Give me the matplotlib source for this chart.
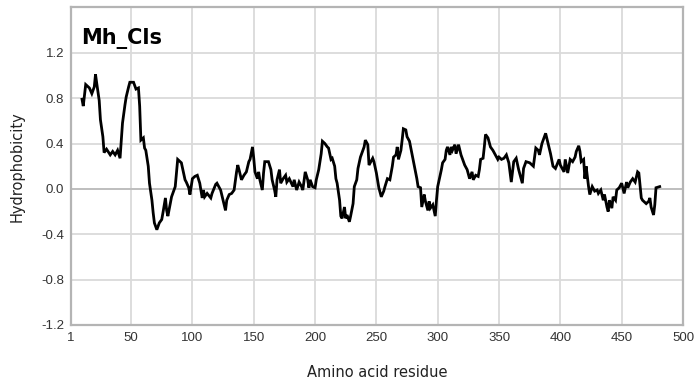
import matplotlib
matplotlib.use("Agg")
import matplotlib.pyplot as plt

# hydrophobicity profile (residue, value)
residue = [
    10, 11, 13, 16, 18, 20, 21, 22, 24, 25, 27, 28, 30, 33, 35, 37, 39, 41,
    42, 43, 45, 46, 48, 49, 52, 53, 54, 56, 57, 58, 60, 61, 62, 64, 65, 67,
    68, 69, 71, 73, 75, 76, 78, 79, 80, 82, 83, 86, 87, 88,
    91, 94, 95, 97, 98, 100, 102, 104, 106, 108, 109, 110, 112, 115, 116,
    119, 120, 123, 125, 127, 128, 130, 132, 134, 136, 137, 138, 140, 142,
    144, 146, 147, 149, 150, 151, 153, 154, 155, 157, 158, 159, 162, 164, 165,
    167, 168, 169, 171, 172, 174, 176, 177, 179, 182, 183, 185, 187, 189,
    190, 192, 194, 195, 196, 198, 200, 201, 203, 205, 206, 208, 210, 211,
    213, 214, 216, 217, 218, 220, 221, 222, 224, 225, 226, 228, 229, 231,
    232, 234, 235, 237, 238, 240, 241, 243, 244,
    246, 247, 248, 250, 252, 254, 256, 257, 259, 261, 263, 264, 266, 267,
    268, 270, 271, 272, 274, 275, 277, 279, 281, 283, 284, 286, 287, 289,
    290, 292, 293, 294, 296, 298, 299, 300, 302, 303, 304, 306, 307, 308,
    310, 311, 312, 314, 315, 317, 319, 320, 322, 324,
    326, 328, 329, 331, 333, 334, 335, 337, 338, 339, 341, 343, 345, 347,
    349, 350, 352, 354, 356, 358, 360, 362, 364, 366, 369, 370, 372, 375,
    378, 380, 382, 383, 385, 388, 390, 392, 394, 396, 399, 400, 403,
    404, 406, 408, 410, 412, 413, 415, 416, 417, 419, 420, 421, 423, 424,
    426, 428, 430, 431, 433, 435, 436, 438, 439, 440, 442, 443, 445, 446,
    448, 450, 452, 454, 455, 457, 459, 461, 463, 464, 466, 467, 470, 472,
    473, 474, 476, 477, 478, 481,
]
hydrophobicity = [
    0.79, 0.73, 0.92, 0.89, 0.84, 0.90, 1.01, 0.93, 0.78, 0.61, 0.46, 0.32,
    0.35, 0.30, 0.33, 0.30, 0.34, 0.27, 0.43, 0.58, 0.74, 0.81, 0.90, 0.94,
    0.94, 0.91, 0.88, 0.89, 0.73, 0.43, 0.45, 0.36, 0.34, 0.20, 0.05, -0.10,
    -0.21, -0.30, -0.36, -0.30, -0.27, -0.21, -0.08, -0.19, -0.24, -0.13,
    -0.07, 0.02, 0.14, 0.26,
    0.23, 0.08, 0.06, 0.01, -0.05, 0.09, 0.11, 0.12, 0.05, -0.08, -0.01,
    -0.07, -0.04, -0.08, -0.04, 0.04, 0.05, -0.01, -0.10, -0.19, -0.10,
    -0.05, -0.04, -0.01, 0.15, 0.21, 0.17, 0.08, 0.12, 0.15, 0.24, 0.26,
    0.37, 0.27, 0.15, 0.09, 0.15, 0.08, -0.01, 0.14, 0.24, 0.24, 0.17, 0.08,
    -0.01, -0.07, 0.08, 0.17, 0.05, 0.09, 0.12, 0.06, 0.09, 0.02, 0.08,
    -0.01, 0.06, 0.02, -0.01, 0.15, 0.08, 0.01, 0.08, 0.02, 0.01, 0.08,
    0.17, 0.31, 0.42, 0.40, 0.37, 0.36, 0.26, 0.27, 0.20, 0.09, 0.05, -0.10,
    -0.24, -0.26, -0.16, -0.26, -0.23, -0.29, -0.24, -0.13, 0.02, 0.08,
    0.18, 0.28, 0.31, 0.37, 0.43, 0.39, 0.21,
    0.25, 0.27, 0.24, 0.14, 0.01, -0.07, -0.02, 0.02, 0.09, 0.08, 0.20,
    0.28, 0.30, 0.37, 0.26, 0.34, 0.43, 0.53, 0.52, 0.46, 0.42, 0.31, 0.20,
    0.09, 0.02, 0.01, -0.16, -0.05, -0.11, -0.19, -0.11, -0.17, -0.14,
    -0.24, -0.10, 0.02, 0.12, 0.17, 0.23, 0.26, 0.34, 0.37, 0.30, 0.37,
    0.34, 0.39, 0.31, 0.39, 0.30, 0.27, 0.21, 0.17,
    0.09, 0.15, 0.08, 0.12, 0.11, 0.17, 0.26, 0.27, 0.37, 0.48, 0.45, 0.37,
    0.34, 0.30, 0.26, 0.28, 0.26, 0.27, 0.30, 0.23, 0.06, 0.24, 0.27, 0.17,
    0.05, 0.18, 0.24, 0.23, 0.20, 0.36, 0.34, 0.30, 0.40, 0.49, 0.40, 0.31,
    0.20, 0.18, 0.26, 0.21, 0.15,
    0.26, 0.14, 0.26, 0.24, 0.28, 0.33, 0.38, 0.33, 0.24, 0.26, 0.09, 0.20,
    0.02, -0.05, 0.02, -0.02, -0.01, -0.04, -0.01, -0.10, -0.05, -0.16,
    -0.20, -0.10, -0.17, -0.07, -0.10, -0.01, 0.01, 0.05, -0.04, 0.06, 0.01,
    0.06, 0.09, 0.06, 0.15, 0.14, -0.08, -0.10, -0.13, -0.11, -0.08, -0.16,
    -0.23, -0.14, 0.01, 0.02,
]

x_ticks = [1, 50, 100, 150, 200, 250, 300, 350, 400, 450, 500]
y_ticks = [-1.2, -0.8, -0.4, 0.0, 0.4, 0.8, 1.2]

tick_font = ["Liberation Sans Narrow", "Liberation Sans", "DejaVu Sans"]

fig = plt.figure(figsize=(6.98, 3.90), dpi=100)
ax = fig.add_axes([0.1017, 0.1667, 0.8768, 0.8143])

ax.plot(residue, hydrophobicity, color="black", linewidth=2.0,
        solid_joinstyle="miter", zorder=3)

ax.set_xlim(1, 500)
ax.set_ylim(-1.2, 1.6)
ax.set_xticks(x_ticks)
ax.set_yticks(y_ticks)
ax.set_yticklabels(["%.1f" % v for v in y_ticks])

ax.grid(True, color="#dadada", linewidth=1.3)
ax.axhline(0, color="#bcbcbc", linewidth=1.3, zorder=1)
ax.set_axisbelow(True)

for side in ["top", "bottom", "left", "right"]:
    ax.spines[side].set_color("#b4b4b4")
    ax.spines[side].set_linewidth(1.6)

ax.tick_params(length=0, pad=5, colors="#333333")
for lab in ax.get_xticklabels() + ax.get_yticklabels():
    lab.set_family(tick_font)
    lab.set_fontsize(9.5)

ax.text(0.016, 0.885, "Mh_Cls", transform=ax.transAxes,
        fontsize=15, fontweight="bold", va="baseline", ha="left",
        color="black")

ax.set_xlabel("Amino acid residue", fontsize=10.5, color="#222222",
              labelpad=15)
ax.set_ylabel("Hydrophobicity", fontsize=10.5, color="#222222",
              labelpad=12)

fig.savefig("out.png", dpi=100)
